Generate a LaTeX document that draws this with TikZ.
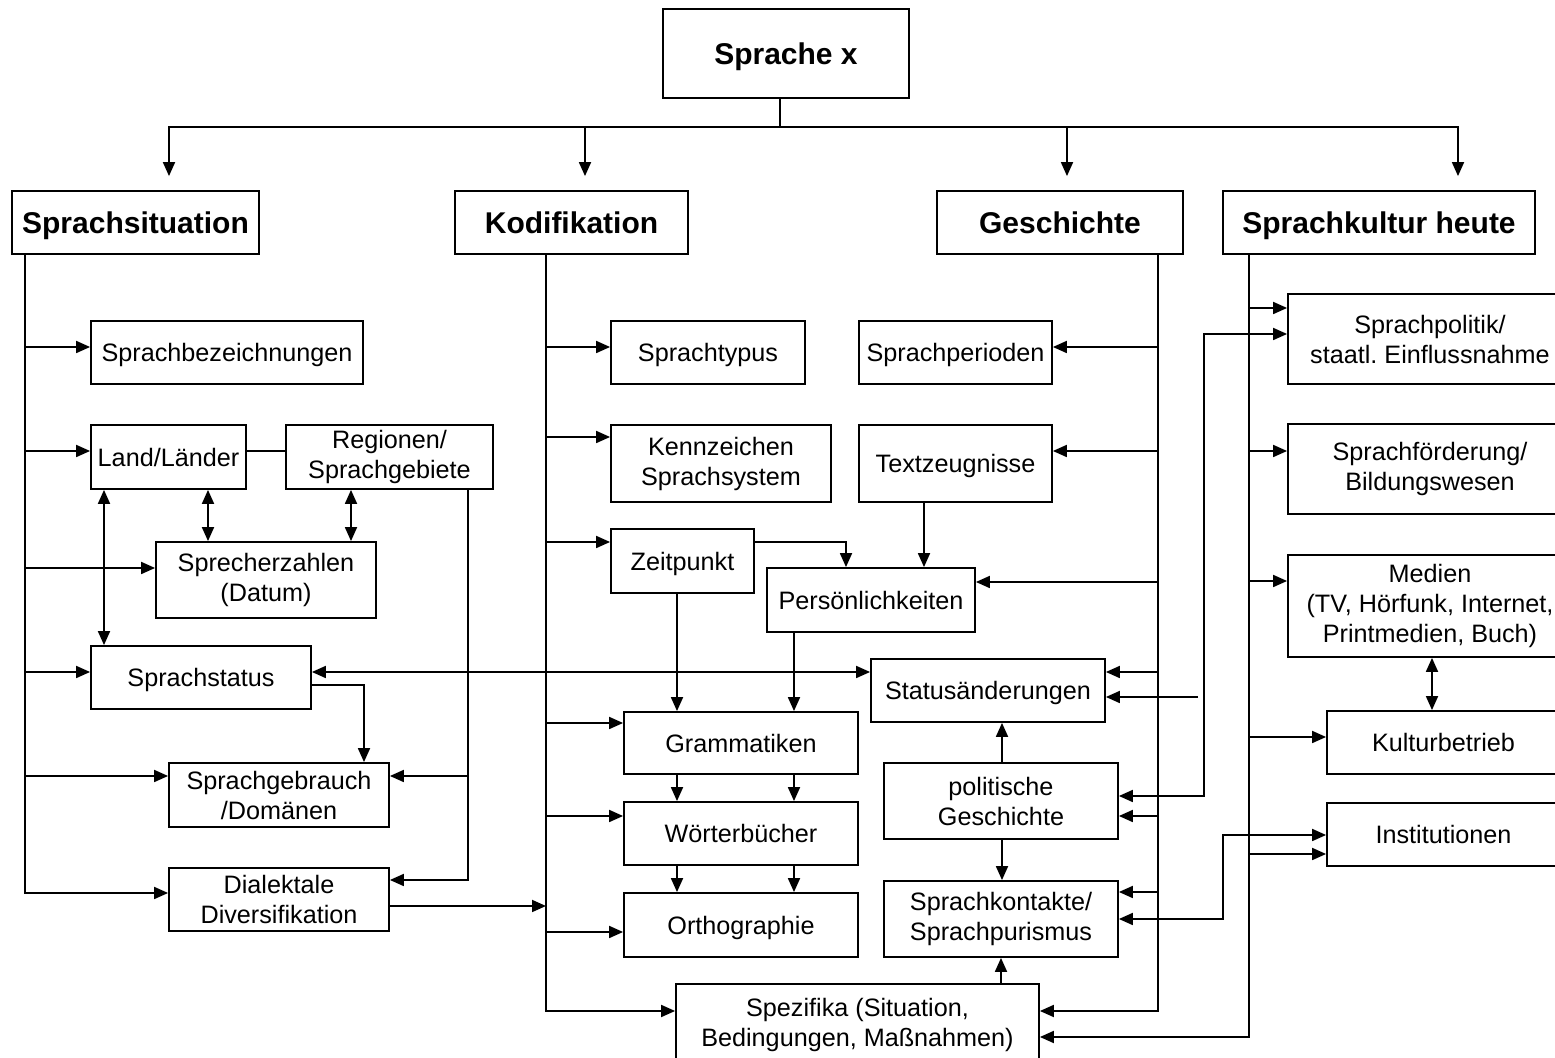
\documentclass[tikz,border=0pt]{standalone}
\usepackage{fontspec}
\setmainfont{Liberation Sans}
\usetikzlibrary{arrows.meta}

\begin{document}
\begin{tikzpicture}[
  x = 0.5pt, y = -0.5pt,
  line width = 0.9pt,
  >={Triangle[length=7pt,width=6pt]},
  every node/.style = {font=\fontsize{12.6}{15}\selectfont},
  kasten/.style 2 args = {draw, rectangle, inner sep=0pt, align=center,
    minimum width=#1*0.5pt, minimum height=#2*0.5pt},
  eins/.style = {text height=9.1pt, text depth=0pt},
  titel/.style = {text height=10.8pt, text depth=0pt,
    font=\fontsize{15}{18}\selectfont\bfseries}
]
\useasboundingbox (0,0) rectangle (1555,1058);

% Kopf und Hauptbereiche
\node[kasten={246}{89}, titel] (top) at (786,53.5) {Sprache x};
\node[kasten={247}{63}, titel] (sit) at (135.5,222.5) {Sprachsituation};
\node[kasten={233}{63}, titel] (kod) at (571.5,222.5) {Kodifikation};
\node[kasten={246}{63}, titel] (ges) at (1060,222.5) {Geschichte};
\node[kasten={312}{63}, titel] (kul) at (1379,222.5) {Sprachkultur heute};

\draw ([xshift=-3pt]top.south) -- ++(0,28) coordinate (bus);
\foreach \n/\x in {sit/169, kod/585, ges/1067, kul/1458}
  \draw[->, shorten >=7pt] (bus) -| (\n.north -| \x,0);

% Sprachsituation
\node[kasten={272}{63}, eins] (bez) at (227,352.5) {Sprachbezeichnungen};
\node[kasten={155}{64}, eins] (land) at (168.5,457) {Land/Länder};
\node[kasten={207}{64}] (reg) at (389.5,457) {Regionen/\\Sprachgebiete};
\node[kasten={220}{76}] (spz) at (266,580) {Sprecherzahlen\\(Datum)};
\node[kasten={220}{63}, eins] (sst) at (201,677.5) {Sprachstatus};
\node[kasten={220}{64}] (sgb) at (279,795) {Sprachgebrauch\\/Domänen};
\node[kasten={220}{63}] (dia) at (279,899.5) {Dialektale\\Diversifikation};

% Kodifikation
\node[kasten={194}{63}, eins] (typ) at (708,352.5) {Sprachtypus};
\node[kasten={220}{77}] (ken) at (721,463.5) {Kennzeichen\\Sprachsystem};
\node[kasten={143}{64}, eins] (zeit) at (682.5,561) {Zeitpunkt};
\node[kasten={234}{62}, eins] (gram) at (741,743) {Grammatiken};
\node[kasten={234}{63}, eins] (wort) at (741,833.5) {Wörterbücher};
\node[kasten={234}{64}, eins] (orth) at (741,925) {Orthographie};
\node[kasten={363}{82}] (spez) at (857.5,1025) {Spezifika (Situation,\\Bedingungen, Maßnahmen)};

% Geschichte
\node[kasten={193}{63}, eins] (per) at (955.5,352.5) {Sprachperioden};
\node[kasten={193}{77}, eins] (txt) at (955.5,463.5) {Textzeugnisse};
\node[kasten={208}{64}, eins] (pers) at (871,600) {Persönlichkeiten};
\node[kasten={234}{63}, eins] (stat) at (988,690.5) {Statusänderungen};
\node[kasten={234}{76}] (pol) at (1001,801) {politische\\Geschichte};
\node[kasten={234}{76}] (skon) at (1001,919) {Sprachkontakte/\\Sprachpurismus};

% Sprachkultur heute
\node[kasten={284}{90}] (spol) at (1430,339) {Sprachpolitik/\\staatl.\ Einflussnahme};
\node[kasten={284}{90}] (foer) at (1430,469) {Sprachförderung/\\Bildungswesen};
\node[kasten={284}{102}] (med) at (1430,606) {Medien\\(TV, Hörfunk, Internet,\\Printmedien, Buch)};
\node[kasten={233}{63}, eins] (kb) at (1443.5,742.5) {Kulturbetrieb};
\node[kasten={233}{63}, eins] (inst) at (1443.5,834.5) {Institutionen};

% Stammlinien
\draw[->] (sit.south -| 25,0) |- (dia.west |- 0,893);
\draw[->] (kod.south -| 546,0) |- (spez.west |- 0,1011);
\draw[->] (ges.south -| 1158,0) |- (spez.east |- 0,1011);
\draw[->] (kul.south -| 1249,0) |- (spez.east |- 0,1037);

\foreach \n/\y in {bez/347, land/451, spz/568, sst/672, sgb/776}
  \draw[->] (25,\y) -- (\n.west |- 25,\y);
\foreach \n/\y in {typ/347, ken/437, zeit/542, gram/723, wort/816, orth/932}
  \draw[->] (546,\y) -- (\n.west |- 546,\y);
\foreach \n/\y in {per/347, txt/451, pers/582, stat/672, pol/816, skon/892}
  \draw[->] (1158,\y) -- (\n.east |- 1158,\y);
\foreach \n/\y in {spol/308, foer/451, med/581, kb/737, inst/854}
  \draw[->] (1249,\y) -- (\n.west |- 1249,\y);

% Querverbindungen links
\draw (land.east |- 0,451) -- (reg.west |- 0,451);
\draw[<->] (land.south -| 104,0) -- (sst.north -| 104,0);
\draw[<->] (land.south -| 208,0) -- (spz.north -| 208,0);
\draw[<->] (reg.south -| 351,0) -- (spz.north -| 351,0);
\draw[->] (sst.east |- 0,685) -| (sgb.north -| 364,0);
\draw[->] (reg.south -| 468,0) |- (dia.east |- 0,880);
\draw[->] (468,776) -- (sgb.east |- 0,776);
\draw[->] (dia.east |- 0,906) -- (546,906);
\draw[<->] (sst.east |- 0,672) -- (stat.west |- 0,672);

% Querverbindungen Mitte
\draw[->] (zeit.east |- 0,542) -| (pers.north -| 846,0);
\draw[->] (txt.south -| 924,0) -- (pers.north -| 924,0);
\draw[->] (zeit.south -| 677,0) -- (gram.north -| 677,0);
\draw[->] (pers.south -| 794,0) -- (gram.north -| 794,0);
\foreach \x in {677,794} {
  \draw[->] (gram.south -| \x,0) -- (wort.north -| \x,0);
  \draw[->] (wort.south -| \x,0) -- (orth.north -| \x,0);
}
\draw[->] (pol.north -| 1002,0) -- (stat.south -| 1002,0);
\draw[->] (pol.south -| 1002,0) -- (skon.north -| 1002,0);
\draw[->] (spez.north -| 1001,0) -- (skon.south -| 1001,0);

% Querverbindungen rechts
\draw[<->] (pol.east |- 0,796) -| (1204,334) -- (spol.west |- 0,334);
\draw[->] (1198,697) -- (stat.east |- 0,697);
\draw[<->] (skon.east |- 0,919) -| (1223,835) -- (inst.west |- 0,835);
\draw[<->] (med.south -| 1432,0) -- (kb.north -| 1432,0);

\end{tikzpicture}
\end{document}
